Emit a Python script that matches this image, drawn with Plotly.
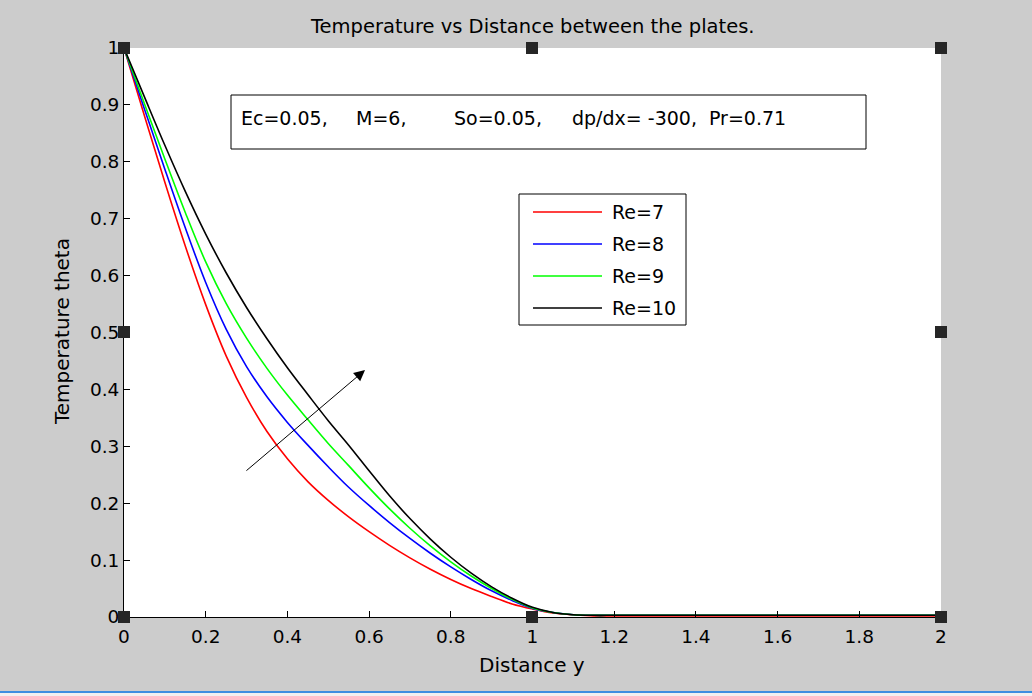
import plotly.graph_objects as go

# ---------------- data ----------------
distance_y = [0, 0.05, 0.1, 0.15, 0.2, 0.25, 0.3, 0.35, 0.4, 0.45, 0.5, 0.55, 0.6,
              0.65, 0.7, 0.75, 0.8, 0.85, 0.9, 0.95, 1.0, 1.05, 1.1, 1.15, 1.2,
              1.3, 1.4, 1.6, 1.8, 2.0]

theta_re7 = [1.0, 0.881, 0.764, 0.652, 0.549, 0.459, 0.386, 0.326, 0.278, 0.238, 0.205,
             0.176, 0.15, 0.126, 0.104, 0.084, 0.066, 0.05, 0.036, 0.023, 0.014,
             0.007, 0.004, 0.002, 0.002, 0.002, 0.002, 0.002, 0.002, 0.002]
theta_re8 = [1.0, 0.893, 0.787, 0.684, 0.588, 0.506, 0.44, 0.387, 0.342, 0.302, 0.264,
             0.228, 0.196, 0.166, 0.138, 0.112, 0.088, 0.066, 0.046, 0.029, 0.015,
             0.008, 0.004, 0.003, 0.003, 0.003, 0.003, 0.003, 0.003, 0.003]
theta_re9 = [1.0, 0.902, 0.805, 0.711, 0.624, 0.551, 0.49, 0.437, 0.39, 0.347, 0.305,
             0.266, 0.227, 0.19, 0.156, 0.125, 0.097, 0.072, 0.05, 0.031, 0.016,
             0.008, 0.004, 0.003, 0.003, 0.003, 0.003, 0.003, 0.003, 0.003]
theta_re10 = [1.0, 0.914, 0.829, 0.748, 0.673, 0.605, 0.544, 0.489, 0.438, 0.391, 0.345,
              0.302, 0.257, 0.213, 0.173, 0.137, 0.105, 0.077, 0.053, 0.033, 0.017,
              0.008, 0.004, 0.003, 0.003, 0.003, 0.003, 0.003, 0.003, 0.003]

series_names = ["Re=7", "Re=8", "Re=9", "Re=10"]
series_values = [theta_re7, theta_re8, theta_re9, theta_re10]
series_colors = ["#FF0000", "#0000FF", "#00FF00", "#000000"]

x_ticks = [0, 0.2, 0.4, 0.6, 0.8, 1, 1.2, 1.4, 1.6, 1.8, 2]
x_tick_labels = ["0", "0.2", "0.4", "0.6", "0.8", "1", "1.2", "1.4", "1.6", "1.8", "2"]
y_ticks = [0, 0.1, 0.2, 0.3, 0.4, 0.5, 0.6, 0.7, 0.8, 0.9, 1]
y_tick_labels = ["0", "0.1", "0.2", "0.3", "0.4", "0.5", "0.6", "0.7", "0.8", "0.9", "1"]

param_texts = ["Ec=0.05,", "M=6,", "So=0.05,", "dp/dx= -300,", "Pr=0.71"]

title_text = "Temperature vs Distance between the plates."
x_title = "Distance y"
y_title = "Temperature theta"

# arrow (data coordinates): tail -> head
arrow_tail = (0.296, 0.255)
arrow_head = (0.59, 0.434)

# ---------------- layout geometry ----------------
W, H = 1032, 696
L, R, T, B = 124, 941, 48, 617  # plot area pixel box
PW, PH = R - L, B - T


def px(x):
    return (x - L) / PW


def py(y):
    return (B - y) / PH


FONT = "DejaVu Sans"
fig = go.Figure()

for name, vals, col in zip(series_names, series_values, series_colors):
    fig.add_trace(go.Scatter(x=distance_y, y=vals, mode="lines", name=name,
                             line=dict(color=col, width=1.6, shape="spline", smoothing=1.0),
                             showlegend=False, hoverinfo="x+y+name"))

shapes = []
annotations = []

# parameter text box
shapes.append(dict(type="rect", xref="paper", yref="paper",
                   x0=px(231), x1=px(866), y0=py(149), y1=py(95),
                   line=dict(color="black", width=1), fillcolor="white", layer="above"))
param_x = [239, 354, 452, 570, 707]
for t, xx in zip(param_texts, param_x):
    annotations.append(dict(text=t, xref="paper", yref="paper", x=px(xx), y=py(118),
                            xanchor="left", yanchor="middle", showarrow=False,
                            font=dict(family=FONT, size=19, color="black")))

# legend (manual, MATLAB style)
shapes.append(dict(type="rect", xref="paper", yref="paper",
                   x0=px(519), x1=px(686), y0=py(325), y1=py(194),
                   line=dict(color="black", width=1), fillcolor="white", layer="above"))
leg_y = [212, 244, 276, 308]
for name, col, ly in zip(series_names, series_colors, leg_y):
    shapes.append(dict(type="line", xref="paper", yref="paper",
                       x0=px(533), x1=px(602), y0=py(ly), y1=py(ly),
                       line=dict(color=col, width=1.6), layer="above"))
    annotations.append(dict(text=name, xref="paper", yref="paper", x=px(610), y=py(ly),
                            xanchor="left", yanchor="middle", showarrow=False,
                            font=dict(family=FONT, size=19, color="black")))

# arrow
annotations.append(dict(x=arrow_head[0], y=arrow_head[1], ax=arrow_tail[0], ay=arrow_tail[1],
                        xref="x", yref="y", axref="x", ayref="y", showarrow=True,
                        arrowhead=2, arrowsize=2.2, arrowwidth=1, arrowcolor="black", text=""))

# title and axis labels
annotations.append(dict(text=title_text, xref="paper", yref="paper", x=px(532), y=py(27),
                        xanchor="center", yanchor="middle", showarrow=False,
                        font=dict(family=FONT, size=19.5, color="black")))
annotations.append(dict(text=x_title, xref="paper", yref="paper", x=px(532), y=py(665),
                        xanchor="center", yanchor="middle", showarrow=False,
                        font=dict(family=FONT, size=20, color="black")))
annotations.append(dict(text=y_title, xref="paper", yref="paper", x=px(62), y=py(332),
                        xanchor="center", yanchor="middle", showarrow=False, textangle=-90,
                        font=dict(family=FONT, size=20, color="black")))

# selection handles
for hx, hy in [(124, 48), (532, 48), (941, 48), (124, 332), (941, 332),
               (124, 617), (532, 617), (941, 617)]:
    shapes.append(dict(type="rect", xref="paper", yref="paper",
                       x0=px(hx - 6), x1=px(hx + 6), y0=py(hy + 6), y1=py(hy - 6),
                       line=dict(width=0), fillcolor="#262626", layer="above"))

# bottom window edge (blue line + light strip)
shapes.append(dict(type="rect", xref="paper", yref="paper",
                   x0=px(0), x1=px(W), y0=py(H), y1=py(692),
                   line=dict(width=0), fillcolor="#F0F0F0"))
shapes.append(dict(type="line", xref="paper", yref="paper",
                   x0=px(0), x1=px(W), y0=py(692), y1=py(692),
                   line=dict(color="#3d8ee0", width=2)))

fig.update_layout(
    width=W, height=H,
    margin=dict(l=L, r=W - R, t=T, b=H - B, pad=0),
    paper_bgcolor="#CCCCCC", plot_bgcolor="white",
    font=dict(family=FONT, size=18.5, color="black"),
    shapes=shapes, annotations=annotations,
    showlegend=False,
    xaxis=dict(range=[0, 2], tickvals=x_ticks, ticktext=x_tick_labels,
               showgrid=False, zeroline=False, showline=True, linecolor="black",
               linewidth=1, ticks="inside", ticklen=6, tickcolor="black",
               ticklabelstandoff=3,
               tickfont=dict(family=FONT, size=18.5), mirror=False),
    yaxis=dict(range=[0, 1], tickvals=y_ticks, ticktext=y_tick_labels,
               showgrid=False, zeroline=False, showline=True, linecolor="black",
               linewidth=1, ticks="inside", ticklen=6, tickcolor="black",
               tickfont=dict(family=FONT, size=18.5), mirror=False),
)

fig.write_html("out.html", config={"displayModeBar": False},
               post_script="document.body.style.margin='0px';")
